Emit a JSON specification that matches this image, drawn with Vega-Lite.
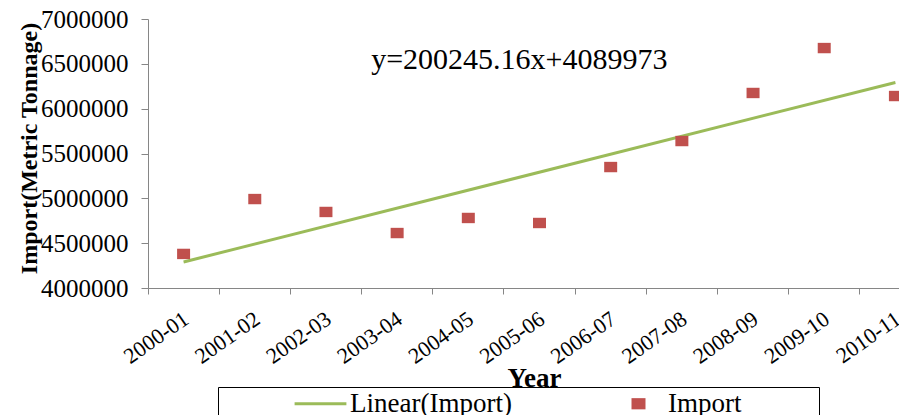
{
  "$schema": "https://vega.github.io/schema/vega-lite/v6.json",
  "width": 751,
  "height": 269,
  "autosize": {"type": "none"},
  "padding": {"left": 148, "top": 19, "right": 0, "bottom": 127},
  "background": "white",
  "config": {"view": {"stroke": null}, "font": "Liberation Serif"},
  "datasets": {
    "imports": [
      {"Year": "2000-01", "value": 4380000, "series": "Import"},
      {"Year": "2001-02", "value": 4992000, "series": "Import"},
      {"Year": "2002-03", "value": 4848000, "series": "Import"},
      {"Year": "2003-04", "value": 4613000, "series": "Import"},
      {"Year": "2004-05", "value": 4781000, "series": "Import"},
      {"Year": "2005-06", "value": 4725000, "series": "Import"},
      {"Year": "2006-07", "value": 5349000, "series": "Import"},
      {"Year": "2007-08", "value": 5639000, "series": "Import"},
      {"Year": "2008-09", "value": 6175000, "series": "Import"},
      {"Year": "2009-10", "value": 6676000, "series": "Import"},
      {"Year": "2010-11", "value": 6141000, "series": "Import"}
    ],
    "trend": [
      {"Year": "2000-01", "value": 4290218},
      {"Year": "2010-11", "value": 6292670}
    ],
    "eq": [
      {"Year": "2004-05", "value": 6543000, "label": "y=200245.16x+4089973"}
    ]
  },
  "layer": [
    {
      "data": {"name": "trend"},
      "mark": {"type": "line", "color": "#9BBB59", "strokeWidth": 3},
      "encoding": {
        "x": {
          "field": "Year", "type": "ordinal",
          "scale": {"type": "band", "domain": ["2000-01","2001-02","2002-03","2003-04","2004-05","2005-06","2006-07","2007-08","2008-09","2009-10","2010-11"], "range": [0, 783], "paddingInner": 0, "paddingOuter": 0},
          "axis": {
            "bandPosition": 0,
            "labelAngle": -35, "labelAlign": "right", "labelBaseline": "top",
            "labelFont": "Liberation Serif", "labelFontSize": 22, "labelColor": "black", "labelPadding": 14, "labelOffset": -3,
            "labelOverlap": false, "labelBound": false, "labelFlush": false,
            "tickSize": 6, "tickColor": "#868686", "domainColor": "#868686", "grid": false,
            "title": "Year", "titleFont": "Liberation Serif", "titleFontSize": 27, "titleFontWeight": "bold", "titleColor": "black",
            "titleX": 386, "titleY": 98, "titleBaseline": "alphabetic", "titleAlign": "center"
          }
        },
        "y": {
          "field": "value", "type": "quantitative",
          "scale": {"domain": [4000000, 7000000], "nice": false, "zero": false},
          "axis": {
            "values": [4000000, 4500000, 5000000, 5500000, 6000000, 6500000, 7000000],
            "format": "d", "grid": false,
            "labelFont": "Liberation Serif", "labelFontSize": 25, "labelColor": "black", "labelPadding": 13,
            "tickSize": 7, "tickColor": "#868686", "domainColor": "#868686",
            "title": "Import(Metric Tonnage)", "titleFont": "Liberation Serif", "titleFontSize": 24, "titleFontWeight": "bold", "titleColor": "black",
            "titleX": -119, "titleY": 129, "titleBaseline": "middle", "titleAlign": "center", "titleAngle": 270
          }
        }
      }
    },
    {
      "data": {"name": "imports"},
      "mark": {"type": "point", "filled": true, "opacity": 1, "size": 169, "strokeWidth": 0},
      "encoding": {
        "x": {"field": "Year", "type": "ordinal"},
        "y": {"field": "value", "type": "quantitative"},
        "color": {
          "field": "series", "type": "nominal",
          "scale": {"domain": ["Linear(Import)", "Import"], "range": ["#9BBB59", "#C0504D"]},
          "legend": {
            "orient": "none", "legendX": 70, "legendY": 368, "direction": "horizontal", "columns": 2,
            "title": null, "strokeColor": "black", "padding": 3,
            "symbolOffset": 86, "labelOffset": 16, "columnPadding": 27,
            "labelFontSize": 27, "labelFont": "Liberation Serif", "labelColor": "black", "labelBaseline": "middle", "labelLimit": 0,
            "labelExpr": "datum.label == 'Import' ? 'Import\u2003\u2003\u2800' : datum.label",
            "symbolSize": 196, "symbolStrokeWidth": 0,
            "encode": {"symbols": {"update": {"shape": {"scale": "shape", "field": "value"}, "fill": {"scale": "color", "field": "value"}, "opacity": {"value": 1}}}}
          }
        },
        "shape": {
          "field": "series", "type": "nominal",
          "scale": {"domain": ["Linear(Import)", "Import"], "range": ["M -3.7 -0.2 L 3.7 -0.2 L 3.7 0.2 L -3.7 0.2 Z", "M -1 -0.8 L 1 -0.8 L 1 0.8 L -1 0.8 Z"]},
          "legend": null
        }
      }
    },
    {
      "data": {"name": "eq"},
      "mark": {"type": "text", "fontSize": 30, "dx": 51, "align": "center", "baseline": "middle", "color": "black", "font": "Liberation Serif"},
      "encoding": {
        "x": {"field": "Year", "type": "ordinal"},
        "y": {"field": "value", "type": "quantitative"},
        "text": {"field": "label"}
      }
    }
  ]
}
